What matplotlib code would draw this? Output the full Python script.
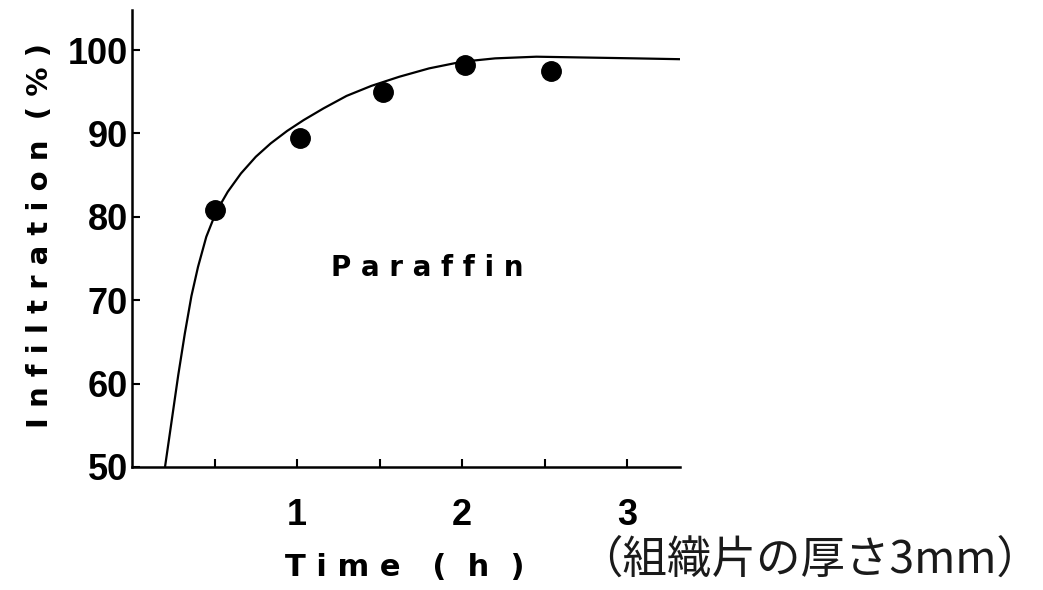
import matplotlib
matplotlib.use("Agg")
import matplotlib.pyplot as plt

# Measured infiltration of paraffin (%) vs. immersion time (h)
time_h = [0.5, 1.02, 1.52, 2.02, 2.54]
infiltration = [80.8, 89.4, 95.0, 98.2, 97.5]

# Fitted curve, traced as (time, infiltration) pairs
curve_t = [0.20, 0.24, 0.28, 0.32, 0.36, 0.40, 0.45, 0.51, 0.58, 0.66,
           0.75, 0.84, 0.94, 1.04, 1.16, 1.30, 1.45, 1.62, 1.80, 2.00,
           2.20, 2.45, 2.75, 3.05, 3.32]
curve_y = [50.0, 55.5, 61.0, 66.0, 70.5, 74.0, 77.6, 80.6, 83.0, 85.2,
           87.2, 88.8, 90.3, 91.6, 93.0, 94.5, 95.7, 96.8, 97.8, 98.6,
           99.0, 99.2, 99.1, 99.0, 98.9]

x_ticks = [0.5, 1.0, 1.5, 2.0, 2.5, 3.0]
x_ticklabels = ["", "1", "", "2", "", "3"]
y_ticks = [50, 60, 70, 80, 90, 100]

fig = plt.figure(figsize=(10.43, 5.90), dpi=100)
ax = fig.add_axes([132 / 1043, 1 - 467 / 590, (680 - 132) / 1043, (467 - 10) / 590])

ax.plot(curve_t, curve_y, color="black", lw=1.6, solid_capstyle="butt")
ax.plot(time_h, infiltration, "o", color="black", markersize=14, zorder=3)

ax.set_xlim(0, 3.32)
ax.set_ylim(50, 104.8)
for side in ("top", "right"):
    ax.spines[side].set_visible(False)
for side in ("left", "bottom"):
    ax.spines[side].set_linewidth(1.8)

ax.set_xticks(x_ticks)
ax.set_xticklabels(x_ticklabels)
ax.set_yticks(y_ticks)
ax.tick_params(axis="both", direction="in", length=6, width=1.5, color="black")
ax.tick_params(axis="x", pad=22)
ax.tick_params(axis="y", pad=3)
for lab in ax.get_xticklabels() + ax.get_yticklabels():
    lab.set_fontfamily("Liberation Sans")
    lab.set_fontweight("bold")
    lab.set_fontsize(26)

fig.text(40 / 1043, 1 - 236 / 590, "I n f i l t r a t i o n  ( % )",
         rotation=90, ha="center", va="center",
         fontsize=21, fontweight="bold", family="DejaVu Sans")
fig.text(405 / 1043, 1 - 568 / 590, "T i m e   (  h  )",
         ha="center", va="center",
         fontsize=22, fontweight="bold", family="DejaVu Sans")
ax.text(1.79, 73.9, "P a r a f f i n", ha="center", va="center",
        fontsize=20, fontweight="bold", family="DejaVu Sans")

fig.text(1041 / 1043, 1 - 560 / 590, "（組織片の厚さ3mm）",
         ha="right", va="center", fontsize=32,
         family=["Noto Sans CJK JP", "DejaVu Sans"], color="#1a1a1a")

fig.savefig("out.png", dpi=100, facecolor="white")
